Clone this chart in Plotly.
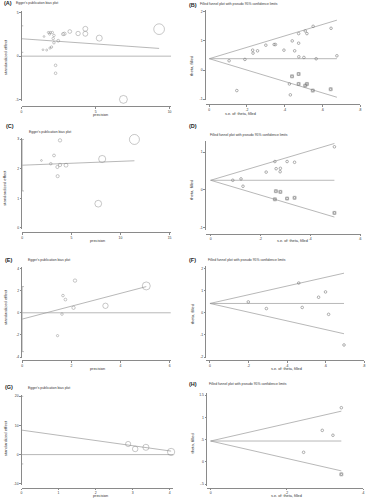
import plotly.graph_objects as go

W, H = 371, 500
FONT = "Liberation Sans, Arial, sans-serif"
MARK = "#7a7a7a"
LINE = "#9a9a9a"
AX = "#8a8a8a"
TXT = "#333333"

# ---------------- data ----------------
# (A) Egger plot
a_precision = [1.52, 1.81, 1.94, 2.08, 1.90, 2.19, 2.14, 2.19, 2.48, 2.81, 2.90, 3.26,
               3.82, 4.31, 4.31, 5.25, 9.29, 1.45, 1.70, 1.92, 2.03, 2.30, 2.30, 6.88]
a_std_effect = [2.26, 2.72, 2.72, 2.72, 2.53, 2.38, 2.03, 1.54, 1.77, 2.53, 2.57, 2.83,
                2.60, 3.14, 2.57, 2.07, 3.10, 0.74, 0.70, 0.93, 1.05, -1.05, -1.96, -4.96]
a_fit_x = [0, 9.29]
a_fit_y = [2.0, 0.89]
a_ci = [0.44, 3.48]

# (B) funnel
b_se = [0.105, 0.189, 0.230, 0.232, 0.256, 0.300, 0.344, 0.351, 0.396, 0.440, 0.453, 0.474,
        0.474, 0.475, 0.509, 0.518, 0.551, 0.502, 0.567, 0.646, 0.677, 0.146, 0.425, 0.430]
b_theta = [0.319, 0.365, 0.684, 0.582, 0.661, 0.855, 0.878, 0.878, 0.684, 1.003, 0.661, 1.254,
           0.924, 0.456, 1.345, 1.254, 1.505, 0.433, 0.388, 1.437, 0.490, -0.707, -0.479, -0.855]
b_fill_se = [0.439, 0.474, 0.474, 0.509, 0.518, 0.549, 0.644]
b_fill_theta = [-0.217, -0.137, -0.479, -0.536, -0.479, -0.707, -0.661]
b_pooled = 0.39
b_se_max = 0.677

# (C) Egger plot
c_precision = [1.96, 2.91, 3.24, 3.85, 3.58, 3.85, 4.46, 3.61, 8.14, 7.74, 11.42]
c_std_effect = [2.28, 2.17, 2.45, 2.96, 2.06, 2.13, 2.12, 1.75, 2.33, 0.82, 2.99]
c_fit_x = [0, 11.42]
c_fit_y = [2.12, 2.27]
c_ci = [1.25, 2.99]

# (D) funnel
d_se = [0.089, 0.122, 0.130, 0.223, 0.258, 0.263, 0.280, 0.279, 0.307, 0.337, 0.497]
d_theta = [0.254, 0.29, 0.096, 0.47, 0.75, 0.56, 0.57, 0.48, 0.75, 0.73, 1.14]
d_fill_se = [0.262, 0.280, 0.258, 0.307, 0.337, 0.497]
d_fill_theta = [-0.035, -0.053, -0.25, -0.23, -0.21, -0.61]
d_pooled = 0.254
d_se_max = 0.497

# (E) Egger plot
e_precision = [2.15, 1.66, 1.76, 2.09, 1.62, 1.44, 3.39, 5.05]
e_std_effect = [2.9, 1.55, 1.19, 0.45, -0.12, -2.06, 0.63, 2.42]
e_fit_x = [0, 5.05]
e_fit_y = [-0.57, 2.36]
e_ci = [-3.5, 2.36]

# (F) funnel
f_se = [0.199, 0.293, 0.461, 0.479, 0.564, 0.60, 0.616, 0.696]
f_theta = [0.49, 0.19, 1.34, 0.24, 0.70, 0.94, -0.07, -1.45]
f_fill_se = []
f_fill_theta = []
f_pooled = 0.42
f_se_max = 0.696

# (G) Egger plot
g_precision = [2.88, 3.07, 3.36, 4.04]
g_std_effect = [3.64, 1.93, 2.5, 0.91]
g_fit_x = [0, 4.04]
g_fit_y = [8.4, 1.2]
g_ci = [-3.2, 20.0]

# (H) funnel
h_se = [0.244, 0.293, 0.321, 0.343]
h_theta = [0.216, 0.71, 0.60, 1.22]
h_fill_se = [0.343]
h_fill_theta = [-0.28]
h_pooled = 0.47
h_se_max = 0.343

EGGER_TITLE = "Egger's publication bias plot"
FUNNEL_TITLE = "Filled funnel plot with pseudo 95% confidence limits"

# ---------------- layout geometry (pixels) ----------------
panels = [
    dict(kind="egger", lab="(A)", x=(0, 20.67, 10, 170), y=(5, 11.67, -5, 99.33),
         xr=[0, 10.1], yr=[-5.1, 5.2], xline=106, xt=[0, 5, 10], yt=[-5, 0, 5],
         data=(a_precision, a_std_effect, a_fit_x, a_fit_y, a_ci), dmax=10.7, zero=True,
         labpos=(0.7, 2.2), titpos=(12.7, 2.2), xtit=(100, 114.6), ytit=(4.5, 56)),
    dict(kind="funnel", lab="(B)", x=(0, 210, 0.8, 362), y=(2, 11, -1, 98.67),
         xr=[-0.02, 0.8], yr=[-1.02, 2.06], xline=104, xt=[0, .2, .4, .6, .8], yt=[-1, 0, 1, 2],
         data=(b_se, b_theta, b_fill_se, b_fill_theta, b_pooled, b_se_max),
         labpos=(187.7, 4), titpos=(198.7, 3), xtit=(241, 113.6), ytit=(192, 65)),
    dict(kind="egger", lab="(C)", x=(0, 21.33, 15, 170), y=(3, 139, 0, 228.33),
         xr=[0, 15.1], yr=[-0.02, 3.03], xline=232.7, xt=[0, 5, 10, 15], yt=[0, 1, 2, 3],
         data=(c_precision, c_std_effect, c_fit_x, c_fit_y, c_ci), dmax=10, zero=False,
         labpos=(2.7, 125.3), titpos=(26, 131.3), xtit=(97, 241), ytit=(4, 188)),
    dict(kind="funnel", lab="(D)", x=(0, 211.33, 0.6, 362), y=(1, 152, -1, 228),
         xr=[-0.02, 0.6], yr=[-1.05, 1.3], xline=234, xt=[0, .2, .4, .6], yt=[-1, 0, 1],
         data=(d_se, d_theta, d_fill_se, d_fill_theta, d_pooled, d_se_max),
         labpos=(187.7, 126), titpos=(208.7, 135.3), xtit=(294, 241), ytit=(192.7, 190)),
    dict(kind="egger", lab="(E)", x=(0, 21.33, 6, 170), y=(4, 269, -4, 358.33),
         xr=[0, 6.05], yr=[-4.05, 4.1], xline=361.5, xt=[0, 2, 4, 6], yt=[-4, -2, 0, 2, 4],
         data=(e_precision, e_std_effect, e_fit_x, e_fit_y, e_ci), dmax=8, zero=True,
         labpos=(1.7, 260.3), titpos=(25, 261), xtit=(97, 370.5), ytit=(4, 308)),
    dict(kind="funnel", lab="(F)", x=(0, 210.67, 0.8, 366), y=(2, 269, -2, 358.33),
         xr=[-0.02, 0.8], yr=[-2.05, 2.1], xline=361.5, xt=[0, .2, .4, .6, .8], yt=[-2, -1, 0, 1, 2],
         data=(f_se, f_theta, f_fill_se, f_fill_theta, f_pooled, f_se_max),
         labpos=(187.7, 260.3), titpos=(207, 260.2), xtit=(288, 370.5), ytit=(192.7, 315)),
    dict(kind="egger", lab="(G)", x=(0, 20.67, 4, 170), y=(20, 397.67, -10, 485.67),
         xr=[0, 4.1], yr=[-10.3, 20.3], xline=490, xt=[0, 1, 2, 3, 4], yt=[-10, 0, 10, 20],
         data=(g_precision, g_std_effect, g_fit_x, g_fit_y, g_ci), dmax=7.3, zero=True,
         labpos=(1.7, 388.7), titpos=(25, 389.3), xtit=(100, 497.6), ytit=(4, 440)),
    dict(kind="funnel", lab="(H)", x=(0, 211.33, 0.4, 365), y=(1.5, 396.67, -0.5, 486),
         xr=[-0.01, 0.4], yr=[-0.55, 1.55], xline=490, xt=[0, .2, .4], yt=[-0.5, 0, 0.5, 1, 1.5],
         data=(h_se, h_theta, h_fill_se, h_fill_theta, h_pooled, h_se_max),
         labpos=(187.7, 385.3), titpos=(207.7, 385.7), xtit=(287.7, 497.6), ytit=(192.7, 445)),
]


def lin(c):
    v0, p0, v1, p1 = c
    k = (p1 - p0) / (v1 - v0)
    return lambda v: p0 + (v - v0) * k


def fmt(v):
    if v == 0:
        return "0"
    s = ("%g" % v)
    if s.startswith("0."):
        s = s[1:]
    if s.startswith("-0."):
        s = "-" + s[2:]
    return s


fig = go.Figure()
annotations = []
layout = {}

for i, p in enumerate(panels, start=1):
    fx, fy = lin(p["x"]), lin(p["y"])
    xd = [fx(p["xr"][0]) / W, fx(p["xr"][1]) / W]
    yd = [1 - fy(p["yr"][0]) / H, 1 - fy(p["yr"][1]) / H]
    xk = "xaxis" if i == 1 else f"xaxis{i}"
    yk = "yaxis" if i == 1 else f"yaxis{i}"
    xa = "x" if i == 1 else f"x{i}"
    ya = "y" if i == 1 else f"y{i}"
    common = dict(showgrid=False, zeroline=False, showline=True, linecolor=AX, linewidth=0.7,
                  ticks="outside", ticklen=1.4, tickwidth=0.5, tickcolor=AX,
                  tickfont=dict(size=3.4, color=TXT, family=FONT), fixedrange=True)
    layout[xk] = dict(domain=xd, range=p["xr"], anchor="free", position=1 - p["xline"] / H,
                      tickvals=p["xt"], ticktext=[fmt(v) for v in p["xt"]], **common)
    layout[yk] = dict(domain=yd, range=p["yr"], anchor=xa,
                      tickvals=p["yt"], ticktext=[fmt(v) for v in p["yt"]], tickangle=0, **common)

    if p["kind"] == "egger":
        prec, std, fx_, fy_, ci = p["data"]
        pmax = max(prec)
        sizes = [max(1.8, p["dmax"] * v / pmax) for v in prec]
        if p["zero"]:
            fig.add_trace(go.Scatter(x=[0, p["xr"][1]], y=[0, 0], mode="lines", xaxis=xa, yaxis=ya,
                                     line=dict(color=LINE, width=0.7), hoverinfo="skip"))
        fig.add_trace(go.Scatter(x=fx_, y=fy_, mode="lines", xaxis=xa, yaxis=ya,
                                 line=dict(color=LINE, width=0.7), hoverinfo="skip"))
        fig.add_trace(go.Scatter(x=[0, 0], y=ci, mode="lines+markers", xaxis=xa, yaxis=ya,
                                 line=dict(color=AX, width=0.7),
                                 marker=dict(symbol="line-ew", size=2.5, line=dict(color=AX, width=0.6)),
                                 hoverinfo="skip"))
        fig.add_trace(go.Scatter(x=prec, y=std, mode="markers", xaxis=xa, yaxis=ya, cliponaxis=False,
                                 marker=dict(symbol="circle-open", size=sizes, color=MARK,
                                             line=dict(color=MARK, width=0.6))))
        title = EGGER_TITLE
        xtitle, ytitle = "precision", "standardized effect"
    else:
        se, th, fse, fth, pooled, semax = p["data"]
        fig.add_trace(go.Scatter(x=[0, semax], y=[pooled, pooled], mode="lines", xaxis=xa, yaxis=ya,
                                 line=dict(color=LINE, width=0.7), hoverinfo="skip"))
        for sgn in (1, -1):
            fig.add_trace(go.Scatter(x=[0, semax], y=[pooled, pooled + sgn * 1.96 * semax],
                                     mode="lines", xaxis=xa, yaxis=ya,
                                     line=dict(color=LINE, width=0.7), hoverinfo="skip"))
        fig.add_trace(go.Scatter(x=se, y=th, mode="markers", xaxis=xa, yaxis=ya, cliponaxis=False,
                                 marker=dict(symbol="circle-open", size=2.6, color=MARK,
                                             line=dict(color=MARK, width=0.6))))
        if fse:
            fig.add_trace(go.Scatter(x=fse, y=fth, mode="markers", xaxis=xa, yaxis=ya, cliponaxis=False,
                                     marker=dict(symbol="square-open", size=3.0, color="#777777",
                                                 line=dict(color="#777777", width=0.5))))
            fig.add_trace(go.Scatter(x=fse, y=fth, mode="markers", xaxis=xa, yaxis=ya, cliponaxis=False,
                                     marker=dict(symbol="circle-open", size=2.2, color=MARK,
                                                 line=dict(color=MARK, width=0.6))))
        title = FUNNEL_TITLE
        xtitle, ytitle = "s.e. of: theta, filled", "theta, filled"

    lx, ly = p["labpos"]
    annotations.append(dict(text="<b>" + p["lab"] + "</b>", x=lx / W, y=1 - ly / H, xref="paper",
                            yref="paper", xanchor="left", yanchor="middle", showarrow=False,
                            font=dict(size=5.5, color="#222222", family=FONT)))
    tx, ty = p["titpos"]
    annotations.append(dict(text=title, x=tx / W, y=1 - ty / H, xref="paper", yref="paper",
                            xanchor="left", yanchor="middle", showarrow=False,
                            font=dict(size=3.4, color=TXT, family=FONT)))
    ax_, ay_ = p["xtit"]
    annotations.append(dict(text=xtitle, x=ax_ / W, y=1 - ay_ / H, xref="paper", yref="paper",
                            xanchor="center", yanchor="middle", showarrow=False,
                            font=dict(size=3.8, color=TXT, family=FONT)))
    bx, by = p["ytit"]
    annotations.append(dict(text=ytitle, x=bx / W, y=1 - by / H, xref="paper", yref="paper",
                            xanchor="center", yanchor="middle", showarrow=False, textangle=-90,
                            font=dict(size=4.2, color=TXT, family=FONT)))

fig.update_layout(width=W, height=H, margin=dict(l=0, r=0, t=0, b=0),
                  paper_bgcolor="white", plot_bgcolor="white", showlegend=False,
                  annotations=annotations, font=dict(family=FONT), **layout)
fig.write_html("out.html", config={"displayModeBar": False},
               post_script="document.body.style.margin='0';document.body.style.padding='0';")
